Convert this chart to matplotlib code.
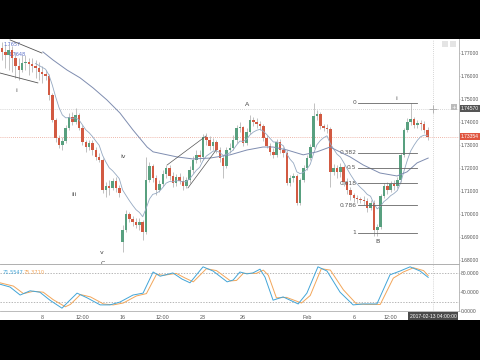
import matplotlib
matplotlib.use("Agg")
import matplotlib.pyplot as plt
import matplotlib.transforms as mtransforms
from matplotlib.patches import Rectangle
import numpy as np
import pandas as pd

# 4h candles, prices
first_open = 1.7722
gap_opens = {36: 1.6878}  # weekend gap into the 16th

closes = [1.7705, 1.7692, 1.7713, 1.7679, 1.7644, 1.7626, 1.7657, 1.7661, 1.7652, 1.7644,
          1.7635, 1.7618, 1.7609, 1.7600, 1.7518, 1.7409, 1.7330, 1.7300, 1.7317, 1.7374,
          1.7422, 1.7400, 1.7431, 1.7374, 1.7313, 1.7291, 1.7309, 1.7278, 1.7248, 1.7235,
          1.7104, 1.7122, 1.7113, 1.7143, 1.7113, 1.7091, 1.6930, 1.7000, 1.6978, 1.6965,
          1.6952, 1.6965, 1.6922, 1.7148, 1.7209, 1.7157, 1.7104, 1.7130, 1.7174, 1.7200,
          1.7165, 1.7135, 1.7161, 1.7143, 1.7122, 1.7148, 1.7191, 1.7235, 1.7257, 1.7248,
          1.7335, 1.7322, 1.7296, 1.7313, 1.7278, 1.7243, 1.7209, 1.7278, 1.7287, 1.7322,
          1.7374, 1.7378, 1.7309, 1.7357, 1.7409, 1.7400, 1.7391, 1.7383, 1.7330, 1.7296,
          1.7270, 1.7257, 1.7313, 1.7278, 1.7265, 1.7135, 1.7157, 1.7165, 1.7048, 1.7148,
          1.7200, 1.7243, 1.7291, 1.7426, 1.7435, 1.7383, 1.7374, 1.7370, 1.7183, 1.7200,
          1.7183, 1.7204, 1.7139, 1.7104, 1.7083, 1.7070, 1.7065, 1.7061, 1.7056, 1.7026,
          1.7048, 1.6930, 1.6943, 1.7078, 1.7122, 1.7104, 1.7130, 1.7122, 1.7148, 1.7257,
          1.7365, 1.7400, 1.7413, 1.7387, 1.7396, 1.7391, 1.7365, 1.7335]
highs = [1.7748, 1.7735, 1.7739, 1.7731, 1.7705, 1.7679, 1.7692, 1.7692, 1.7679, 1.7679,
         1.7670, 1.7661, 1.7644, 1.7626, 1.7609, 1.7526, 1.7417, 1.7344, 1.7335, 1.7387,
         1.7439, 1.7444, 1.7461, 1.7439, 1.7387, 1.7322, 1.7322, 1.7322, 1.7291, 1.7265,
         1.7243, 1.7139, 1.7148, 1.7157, 1.7161, 1.7126, 1.6952, 1.7017, 1.7009, 1.6991,
         1.6983, 1.6983, 1.6974, 1.7248, 1.7226, 1.7217, 1.7170, 1.7148, 1.7191, 1.7213,
         1.7213, 1.7183, 1.7174, 1.7178, 1.7165, 1.7161, 1.7209, 1.7252, 1.7278, 1.7278,
         1.7348, 1.7352, 1.7339, 1.7330, 1.7322, 1.7291, 1.7257, 1.7291, 1.7309, 1.7344,
         1.7387, 1.7400, 1.7383, 1.7374, 1.7431, 1.7422, 1.7417, 1.7404, 1.7391, 1.7344,
         1.7309, 1.7287, 1.7326, 1.7326, 1.7291, 1.7278, 1.7170, 1.7178, 1.7174, 1.7157,
         1.7213, 1.7257, 1.7304, 1.7483, 1.7452, 1.7444, 1.7391, 1.7391, 1.7378, 1.7217,
         1.7213, 1.7222, 1.7213, 1.7157, 1.7117, 1.7091, 1.7083, 1.7074, 1.7078, 1.7070,
         1.7061, 1.7061, 1.6956, 1.7087, 1.7135, 1.7139, 1.7143, 1.7148, 1.7161, 1.7265,
         1.7374, 1.7417, 1.7483, 1.7422, 1.7409, 1.7409, 1.7404, 1.7378]
lows = [1.7670, 1.7635, 1.7626, 1.7618, 1.7592, 1.7583, 1.7618, 1.7626, 1.7605, 1.7618,
        1.7592, 1.7583, 1.7570, 1.7583, 1.7496, 1.7400, 1.7313, 1.7287, 1.7278, 1.7309,
        1.7365, 1.7387, 1.7391, 1.7365, 1.7300, 1.7270, 1.7278, 1.7257, 1.7235, 1.7226,
        1.7091, 1.7074, 1.7083, 1.7104, 1.7096, 1.7074, 1.6835, 1.6922, 1.6965, 1.6948,
        1.6939, 1.6930, 1.6887, 1.6913, 1.7139, 1.7139, 1.7083, 1.7096, 1.7122, 1.7157,
        1.7148, 1.7117, 1.7122, 1.7130, 1.7104, 1.7113, 1.7135, 1.7178, 1.7222, 1.7226,
        1.7235, 1.7300, 1.7278, 1.7278, 1.7265, 1.7226, 1.7157, 1.7200, 1.7265, 1.7278,
        1.7309, 1.7357, 1.7296, 1.7300, 1.7348, 1.7383, 1.7374, 1.7365, 1.7317, 1.7287,
        1.7257, 1.7243, 1.7248, 1.7265, 1.7248, 1.7126, 1.7122, 1.7139, 1.7039, 1.7039,
        1.7139, 1.7191, 1.7235, 1.7287, 1.7409, 1.7370, 1.7361, 1.7352, 1.7117, 1.7170,
        1.7157, 1.7161, 1.7122, 1.7087, 1.7061, 1.7052, 1.7048, 1.7048, 1.7039, 1.7009,
        1.7017, 1.6904, 1.6904, 1.6935, 1.7070, 1.7087, 1.7096, 1.7104, 1.7113, 1.7139,
        1.7248, 1.7357, 1.7387, 1.7374, 1.7374, 1.7365, 1.7352, 1.7322]

# slow moving average, sampled off the chart (bar, price)
ma_bars = [12.2, 15.2, 19.4, 23.3, 27.2, 31.3, 35.2, 39.1, 43.3, 45.1, 52.2, 57.0, 62.1,
           68.1, 73.1, 77.9, 80.9, 85.1, 89.9, 94.0, 97.9, 103.9, 107.8, 112.8, 117.9,
           120.9, 123.9, 127.2]
ma_vals = [1.7705, 1.7670, 1.7626, 1.7592, 1.7548, 1.7496, 1.7439, 1.7365, 1.7291, 1.7270,
           1.7248, 1.7239, 1.7243, 1.7257, 1.7278, 1.7291, 1.7291, 1.7278, 1.7257, 1.7270,
           1.7291, 1.7248, 1.7213, 1.7178, 1.7165, 1.7183, 1.7222, 1.7243]

# stochastic oscillator, sampled off the chart (bar, value)
k_bars = [-0.6, 2.4, 5.4, 8.4, 11.3, 14.3, 17.9, 19.4, 22.4, 25.4, 29.3, 32.2, 35.2, 39.1,
          42.1, 45.1, 47.2, 51.0, 53.7, 56.1, 60.0, 63.0, 67.2, 69.0, 71.0, 73.1, 74.9,
          77.0, 78.5, 80.9, 83.9, 88.4, 91.0, 94.3, 97.0, 100.9, 104.8, 107.8, 111.9,
          115.8, 118.8, 121.8, 124.8, 127.2]
k_vals = [57, 51, 34, 43, 40, 23, 6, 17, 38, 28, 13, 13, 19, 34,
          38, 83, 74, 81, 68, 60, 94, 85, 62, 66, 83, 79, 81,
          89, 72, 23, 30, 15, 38, 94, 85, 40, 13, 15, 15,
          77, 85, 94, 85, 71.6]
d_bars = [-0.6, 3.4, 6.4, 9.4, 12.3, 15.3, 18.9, 20.4, 23.4, 26.4, 30.3, 33.2, 36.2, 40.1,
          43.1, 46.1, 48.2, 52.0, 54.7, 57.1, 61.0, 64.0, 68.2, 70.0, 72.0, 74.1, 75.9,
          78.0, 79.5, 81.9, 84.9, 89.4, 92.0, 95.3, 98.0, 101.9, 105.8, 108.8, 112.9,
          116.8, 119.8, 122.8, 125.8, 127.2]
d_vals = [60, 53, 37, 42, 40, 24, 9, 14, 35, 30, 15, 13, 17, 32,
          37, 78, 76, 80, 70, 62, 90, 86, 64, 65, 80, 80, 80,
          87, 76, 28, 29, 17, 33, 90, 87, 45, 15, 14, 14,
          70, 83, 92, 86, 75.4]
k_last = "71.5547"
d_last = "75.3710"

# fib retracement
fib_top = 1.7483
fib_bottom = 1.6917
fib_levels = [0, 0.382, 0.5, 0.618, 0.786, 1]
fib_labels = ["0", "0.382", "0.5", "0.618", "0.786", "1"]

# elliott wave labels (text, bar, price)
wave_labels = [("i", 4.2, 1.7539), ("iii", 21.5, 1.7083), ("iv", 36.1, 1.7248),
               ("v", 29.9, 1.6830), ("A", 73.1, 1.7474), ("B", 112.2, 1.6878),
               ("i", 117.6, 1.7500)]

price_ticks = [1.68, 1.69, 1.70, 1.71, 1.72, 1.73, 1.74, 1.75, 1.76, 1.77]
osc_ticks = [0, 40, 80]
x_tick_bars = [12, 24, 36, 48, 60, 72, 91, 105, 116]
x_tick_labels = ["8", "12:00", "16", "12:00", "23", "26", "Feb", "6", "12:00"]
last_price = 1.73354
cross_price = 1.74570
cross_bar = 128.7
cross_time = "2017-02-13 04:00:00"

UP = "#58a07f"
DOWN = "#d25a42"
WICK = "#a8a8a8"
GRAYTXT = "#555555"
SPINE = "#b0b0b0"
AXFS = 3.6
AXFONT = "Liberation Sans"

fig = plt.figure(figsize=(4.8, 3.6), dpi=100, facecolor="black")
bg = fig.add_axes([0, 40 / 360, 1, 281 / 360])
bg.set_facecolor("white")
bg.set_xticks([]); bg.set_yticks([])
for s in bg.spines.values():
    s.set_visible(False)

ax = fig.add_axes([0, 96 / 360, 459 / 480, 225 / 360])
osc = fig.add_axes([0, 49 / 360, 459 / 480, 47 / 360], sharex=ax)
for a in (ax, osc):
    a.set_facecolor("none")
    a.spines["left"].set_visible(False)
    a.spines["top"].set_visible(False)
    for s in ("right", "bottom"):
        a.spines[s].set_color(SPINE)
        a.spines[s].set_linewidth(0.6)

# candles
n = len(closes)
idx = np.arange(n)
opens = [first_open] + closes[:-1]
for i, v in gap_opens.items():
    opens[i] = v
o = np.array(opens)
c = np.array(closes)
cols = np.where(c >= o, UP, DOWN)
ax.vlines(idx, lows, highs, color=WICK, lw=0.5, zorder=2)
ax.bar(idx, np.maximum(np.abs(c - o), 0.00008), bottom=np.minimum(o, c), width=0.75,
       color=cols, lw=0, zorder=3)

# moving averages
fast = pd.Series(closes).ewm(span=8, adjust=False).mean()
ax.plot(idx[10:], fast[10:], color="#95a9c2", lw=0.6, zorder=4)
ax.plot(ma_bars, ma_vals, color="#7f8db0", lw=0.7, zorder=4)

# drawn trend lines
ax.plot([2.4, 11.9], [1.7757, 1.7700], color="#555555", lw=0.6, zorder=4)
ax.plot([-0.6, 10.7], [1.7613, 1.7570], color="#555555", lw=0.6, zorder=4)
ax.plot([49.3, 60.9], [1.7213, 1.7339], color="#555555", lw=0.5, zorder=4)
ax.plot([55.5, 63.9], [1.7113, 1.7278], color="#555555", lw=0.5, zorder=4)
ax.text(0.3, 1.7735, "1.7657", fontsize=3.5, color="#5a6fc8", va="center")
ax.text(2.0, 1.7692, "1.7648", fontsize=3.5, color="#5a6fc8", va="center")

# fib retracement
for lv, lab in zip(fib_levels, fib_labels):
    y = fib_top - lv * (fib_top - fib_bottom)
    ax.plot([106.3, 123.9], [y, y], color="#666666", lw=0.6, zorder=4)
    ax.text(105.7, y, lab, fontsize=4.3, color=GRAYTXT, ha="right", va="center")

for t, b, p in wave_labels:
    ax.text(b, p, t, fontsize=4.5, color="#444444", ha="center", va="center")
ax.text(30.1, 1.6795, "C", fontsize=4.5, color="#444444", ha="center", va="top", clip_on=True)

# price lines / crosshair
ax.axhline(last_price, color="#e9a08f", lw=0.6, ls=(0, (1, 1.5)), zorder=1)
ax.axhline(cross_price, color="#c8c8c8", lw=0.6, ls=(0, (1, 1.5)), zorder=1)
ax.axvline(cross_bar, color="#c8c8c8", lw=0.6, ls=(0, (1, 1.5)), zorder=1)
osc.axvline(cross_bar, color="#c8c8c8", lw=0.6, ls=(0, (1, 1.5)), zorder=1)
ax.plot([cross_bar], [cross_price], marker="+", color="#aaaaaa", ms=6, mew=0.6, zorder=5)

ax.set_xlim(-0.6, 136.4)
ax.set_ylim(1.6782, 1.7761)
ax.yaxis.tick_right()
ax.set_yticks(price_ticks)
ax.set_yticklabels([f"{t:.5f}" for t in price_ticks], fontfamily=AXFONT)
ax.tick_params(axis="y", labelsize=AXFS, labelcolor=GRAYTXT, length=1, width=0.5,
               color=SPINE, pad=0.5)
ax.tick_params(axis="x", bottom=False, labelbottom=False)

tr = mtransforms.blended_transform_factory(ax.transAxes, ax.transData)
ax.text(1.004, last_price, f"{last_price:.5f}", transform=tr, fontsize=AXFS, color="white",
        family=AXFONT, va="center", ha="left",
        bbox=dict(boxstyle="square,pad=0.2", fc="#e0553f", ec="none"))
ax.text(1.004, cross_price, f"{cross_price:.5f}", transform=tr, fontsize=AXFS, color="white",
        family=AXFONT, va="center", ha="left",
        bbox=dict(boxstyle="square,pad=0.2", fc="#555555", ec="none"))
fig.text(454 / 480, 1 - 107 / 360, "+", fontsize=4, color="white", ha="center", va="center",
         bbox=dict(boxstyle="square,pad=0.15", fc="#bbbbbb", ec="none"))

# small toolbar buttons top right
for px in (442, 450):
    fig.add_artist(Rectangle((px / 480, 1 - 47 / 360), 6 / 480, 6 / 360,
                             transform=fig.transFigure, fc="#e4e4e4", ec="none"))

# oscillator
osc.plot(d_bars, d_vals, color="#f2a65a", lw=0.7, zorder=3)
osc.plot(k_bars, k_vals, color="#42a5d8", lw=0.7, zorder=4)
osc.axhline(80, color="#9a9a9a", lw=0.5, ls=(0, (2, 2)))
osc.axhline(20, color="#9a9a9a", lw=0.5, ls=(0, (2, 2)))
osc.spines["top"].set_visible(True)
osc.spines["top"].set_color(SPINE)
osc.spines["top"].set_linewidth(0.6)
osc.set_ylim(0, 100)
osc.yaxis.tick_right()
osc.set_yticks(osc_ticks)
osc.set_yticklabels([f"{t:.4f}" for t in osc_ticks], fontfamily=AXFONT)
osc.tick_params(axis="y", labelsize=AXFS, labelcolor=GRAYTXT, length=1, width=0.5,
                color=SPINE, pad=0.5)
osc.set_xticks(x_tick_bars)
osc.set_xticklabels(x_tick_labels, fontfamily=AXFONT)
osc.tick_params(axis="x", labelsize=AXFS + 0.3, labelcolor=GRAYTXT, length=0, pad=3)
osc.text(0.006, 0.82, k_last, transform=osc.transAxes, fontsize=3.7, color="#42a5d8", va="center")
osc.text(0.052, 0.82, d_last, transform=osc.transAxes, fontsize=3.7, color="#f2a65a", va="center")

trx = mtransforms.blended_transform_factory(osc.transData, osc.transAxes)
osc.text(cross_bar, -0.11, cross_time, transform=trx, fontsize=3.6, color="white",
         family=AXFONT, ha="center", va="center",
         bbox=dict(boxstyle="square,pad=0.3", fc="#4a4a4a", ec="none"), clip_on=False)

fig.savefig("out.png", dpi=100, facecolor="black")
